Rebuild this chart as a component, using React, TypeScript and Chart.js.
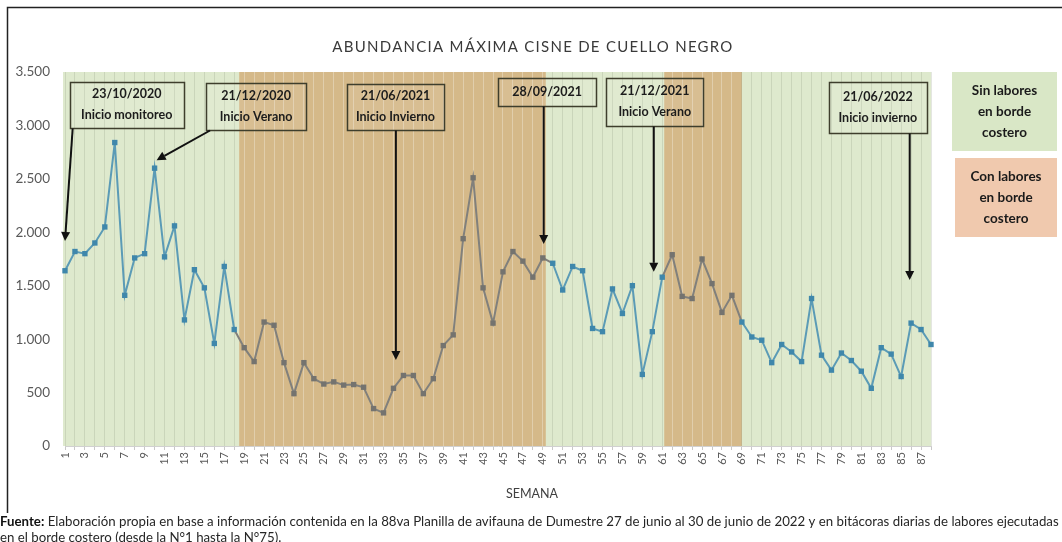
import { useEffect, useRef } from 'react';
import { Chart, registerables } from 'chart.js';

Chart.register(...registerables);

// ---- data ----
const weeks: string[] = Array.from({ length: 88 }, (_, i) => String(i + 1));

const abundance: number[] = [
  1640, 1820, 1800, 1900, 2050, 2840, 1410, 1760, 1800, 2600,
  1770, 2060, 1180, 1650, 1480, 960, 1680, 1090, 920, 790,
  1160, 1130, 780, 490, 780, 630, 580, 600, 570, 575,
  550, 350, 310, 540, 660, 660, 490, 630, 940, 1040,
  1940, 2510, 1480, 1150, 1630, 1820, 1730, 1580, 1760, 1710,
  1460, 1680, 1640, 1100, 1070, 1470, 1240, 1500, 670, 1070,
  1580, 1790, 1400, 1380, 1750, 1520, 1250, 1410, 1160, 1020,
  990, 780, 950, 880, 790, 1380, 850, 710, 870, 800,
  700, 540, 920, 860, 650, 1150, 1090, 950,
];

// periods "con labores en borde costero" (in week units)
const laboresStart: number[] = [18.5, 61.2];
const laboresEnd: number[] = [49.3, 69.0];

const yMax = 3500;
const yStep = 500;

// annotations (dates) positioned in data space: box centre and arrow tip
const noteLines: string[][] = [
  ['23/10/2020', 'Inicio monitoreo'],
  ['21/12/2020', 'Inicio Verano'],
  ['21/06/2021', 'Inicio Invierno'],
  ['28/09/2021'],
  ['21/12/2021', 'Inicio Verano'],
  ['21/06/2022', 'Inicio invierno'],
];
const noteBoxWeek: number[] = [7.2, 20.2, 34.2, 49.44, 60.25, 82.66];
const noteBoxValue: number[] = [3190, 3176, 3171, 3316, 3223, 3167];
const noteFromWeek: number[] = [1.77, 15.57, 34.24, 49.09, 60.15, 85.86];
const noteToWeek: number[] = [1.0, 10.2, 34.24, 49.09, 60.15, 85.86];
const noteToValue: number[] = [1918, 2675, 804, 1890, 1630, 1553];

const TITLE = 'ABUNDANCIA MÁXIMA CISNE DE CUELLO NEGRO';
const X_TITLE = 'SEMANA';
const LEGEND_SIN = ['Sin labores', 'en borde', 'costero'];
const LEGEND_CON = ['Con labores', 'en borde', 'costero'];
const SOURCE_BOLD = 'Fuente:';
const SOURCE_1 =
  ' Elaboración propia en base a información contenida en la 88va Planilla de avifauna de Dumestre 27 de junio al 30 de junio de 2022 y en bitácoras diarias de labores ejecutadas';
const SOURCE_2 = 'en el borde costero (desde la N°1 hasta la N°75).';

// ---- styles ----
const GREEN_BAND = '#dee9cd';
const BROWN_BAND = '#d5b989';
const BLUE_LINE = '#5b9bb6';
const BLUE_POINT = '#3f87ab';
const GREY_LINE = '#81807c';
const GREY_POINT = '#74736f';
const FONT = 'Lato, "Open Sans", sans-serif';
const NOTE_W = [114, 100, 97, 98, 97, 98];
const NOTE_H = [46, 47, 46, 28, 48, 51];

const inLabores = (week: number) =>
  laboresStart.some((s, i) => week > s && week < laboresEnd[i]);

const fmt = (v: number) =>
  String(Math.round(v)).replace(/\B(?=(\d{3})+(?!\d))/g, '.');

function drawArrow(ctx: CanvasRenderingContext2D, x1: number, y1: number, x2: number, y2: number) {
  const ang = Math.atan2(y2 - y1, x2 - x1);
  const head = 9;
  const hw = 4.5;
  const bx = x2 - head * Math.cos(ang);
  const by = y2 - head * Math.sin(ang);
  ctx.save();
  ctx.strokeStyle = '#111';
  ctx.fillStyle = '#111';
  ctx.lineWidth = 2;
  ctx.beginPath();
  ctx.moveTo(x1, y1);
  ctx.lineTo(bx, by);
  ctx.stroke();
  ctx.beginPath();
  ctx.moveTo(x2, y2);
  ctx.lineTo(bx + hw * Math.sin(ang), by - hw * Math.cos(ang));
  ctx.lineTo(bx - hw * Math.sin(ang), by + hw * Math.cos(ang));
  ctx.closePath();
  ctx.fill();
  ctx.restore();
}

const decorPlugin = {
  id: 'decor',
  beforeDraw(chart: any) {
    const { ctx, chartArea } = chart;
    const x = chart.scales.x;
    ctx.save();
    ctx.fillStyle = GREEN_BAND;
    ctx.fillRect(chartArea.left - 2, chartArea.top, chartArea.right - chartArea.left + 2, chartArea.bottom - chartArea.top);
    ctx.fillStyle = BROWN_BAND;
    laboresStart.forEach((s, i) => {
      const x1 = x.getPixelForValue(s - 1);
      const x2 = x.getPixelForValue(laboresEnd[i] - 1);
      ctx.fillRect(x1, chartArea.top, x2 - x1, chartArea.bottom - chartArea.top);
    });
    ctx.restore();
  },
  afterDraw(chart: any) {
    const { ctx, width } = chart;
    const xs = chart.scales.x;
    const ys = chart.scales.y;
    ctx.save();

    // frame
    ctx.strokeStyle = '#222';
    ctx.lineWidth = 1.5;
    ctx.beginPath();
    ctx.moveTo(7.5, 513);
    ctx.lineTo(7.5, 7.5);
    ctx.lineTo(width, 7.5);
    ctx.stroke();

    // title
    ctx.fillStyle = '#3a3a3a';
    ctx.font = `15px ${FONT}`;
    ctx.textBaseline = 'middle';
    ctx.textAlign = 'left';
    const tw = ctx.measureText(TITLE).width;
    const spacing = Math.max(0, (400 - tw) / (TITLE.length - 1));
    (ctx as any).letterSpacing = `${spacing}px`;
    const tw2 = ctx.measureText(TITLE).width;
    ctx.fillText(TITLE, 533 - tw2 / 2, 47);
    (ctx as any).letterSpacing = '0px';

    // x title
    ctx.textAlign = 'center';
    ctx.font = `12.5px ${FONT}`;
    ctx.fillStyle = '#404040';
    ctx.fillText(X_TITLE, 532, 494);

    // legend boxes
    const legend = (lines: string[], fill: string, x1: number, y1: number, x2: number, y2: number) => {
      ctx.fillStyle = fill;
      ctx.fillRect(x1, y1, x2 - x1, y2 - y1);
      ctx.fillStyle = '#1a1a1a';
      ctx.font = `bold 13.5px ${FONT}`;
      ctx.textAlign = 'center';
      const cx = (x1 + x2) / 2;
      const cy = (y1 + y2) / 2;
      lines.forEach((l, i) => ctx.fillText(l, cx, cy + (i - (lines.length - 1) / 2) * 21));
    };
    legend(LEGEND_SIN, '#d9e7c6', 952, 72, 1057, 151);
    legend(LEGEND_CON, '#f0c9ae', 955, 158, 1057, 237);

    // annotations
    noteLines.forEach((lines, i) => {
      const cx = xs.getPixelForValue(noteBoxWeek[i] - 1);
      const cy = ys.getPixelForValue(noteBoxValue[i]);
      const bw = NOTE_W[i];
      const bh = NOTE_H[i];
      const bx = Math.round(cx - bw / 2) + 0.5;
      const by = Math.round(cy - bh / 2) + 0.5;
      ctx.strokeStyle = '#3e3e2c';
      ctx.lineWidth = 1.5;
      ctx.fillStyle = 'rgba(255,255,255,0.08)';
      ctx.fillRect(bx, by, bw, bh);
      ctx.strokeRect(bx, by, bw, bh);
      ctx.fillStyle = '#1c1c1c';
      ctx.font = `bold 12.5px ${FONT}`;
      ctx.textAlign = 'center';
      lines.forEach((l, k) => {
        const ly = lines.length > 1 ? cy + (k === 0 ? -11 : 10) : cy;
        ctx.fillText(l, cx, ly);
      });
      const fx = xs.getPixelForValue(noteFromWeek[i] - 1);
      const tx = xs.getPixelForValue(noteToWeek[i] - 1);
      const ty = ys.getPixelForValue(noteToValue[i]);
      drawArrow(ctx, fx, by + bh, tx, ty);
    });

    // source
    let size = 12;
    ctx.textAlign = 'left';
    ctx.font = `bold ${size}px ${FONT}`;
    let wb = ctx.measureText(SOURCE_BOLD).width;
    ctx.font = `${size}px ${FONT}`;
    const wr = ctx.measureText(SOURCE_1).width;
    size = (size * 1060) / (wb + wr);
    ctx.font = `bold ${size}px ${FONT}`;
    wb = ctx.measureText(SOURCE_BOLD).width;
    ctx.fillStyle = '#111';
    ctx.fillText(SOURCE_BOLD, 0, 522);
    ctx.font = `${size}px ${FONT}`;
    ctx.fillStyle = '#262626';
    ctx.fillText(SOURCE_1, wb, 522);
    ctx.fillText(SOURCE_2, 0, 538);

    ctx.restore();
  },
};

export default function App() {
  const ref = useRef<HTMLCanvasElement | null>(null);

  useEffect(() => {
    if (!ref.current) return;
    const pointColors = weeks.map((w) => (inLabores(Number(w)) ? GREY_POINT : BLUE_POINT));
    const chart = new Chart(ref.current, {
      type: 'line',
      data: {
        labels: weeks,
        datasets: [
          {
            label: 'Abundancia',
            data: abundance,
            borderWidth: 2,
            borderColor: BLUE_LINE,
            pointStyle: 'rect',
            pointRadius: 3.8,
            pointBorderWidth: 0,
            pointBackgroundColor: pointColors,
            pointBorderColor: pointColors,
            tension: 0,
            segment: {
              borderColor: (c: any) =>
                inLabores(c.p0DataIndex + 1) || inLabores(c.p1DataIndex + 1) ? GREY_LINE : BLUE_LINE,
            },
          },
        ],
      },
      options: {
        animation: false,
        responsive: false,
        layout: { padding: { top: 72, right: 131, left: 0, bottom: 0 } },
        plugins: {
          legend: { display: false },
          title: { display: false },
          tooltip: { enabled: false },
        },
        scales: {
          x: {
            type: 'category',
            offset: false,
            afterFit: (s: any) => {
              s.height = 96;
            },
            grid: {
              display: true,
              drawTicks: true,
              tickLength: 4,
              tickColor: '#c8c8c8',
              lineWidth: 1,
              color: (c: any) =>
                inLabores((c.index ?? 0) + 1) ? 'rgba(255,255,255,0.3)' : 'rgba(130,140,120,0.22)',
            },
            border: { display: true, color: '#d0d0d0' },
            ticks: {
              autoSkip: false,
              minRotation: 90,
              maxRotation: 90,
              padding: 2,
              color: '#595959',
              font: { family: FONT, size: 11 },
              callback: (_v: any, i: number) => (i % 2 === 0 ? weeks[i] : ''),
            },
          },
          y: {
            min: 0,
            max: yMax,
            afterFit: (s: any) => {
              s.width = 65;
            },
            grid: { display: false, drawTicks: false },
            border: { display: false },
            ticks: {
              stepSize: yStep,
              padding: 15,
              color: '#595959',
              font: { family: FONT, size: 13.5 },
              callback: (v: any) => fmt(Number(v)),
            },
          },
        },
      },
      plugins: [decorPlugin],
    });
    return () => chart.destroy();
  }, []);

  return (
    <div style={{ position: 'absolute', left: 0, top: 0, width: 1062, height: 542, background: '#fff' }}>
      <canvas ref={ref} width={1062} height={542} />
    </div>
  );
}
